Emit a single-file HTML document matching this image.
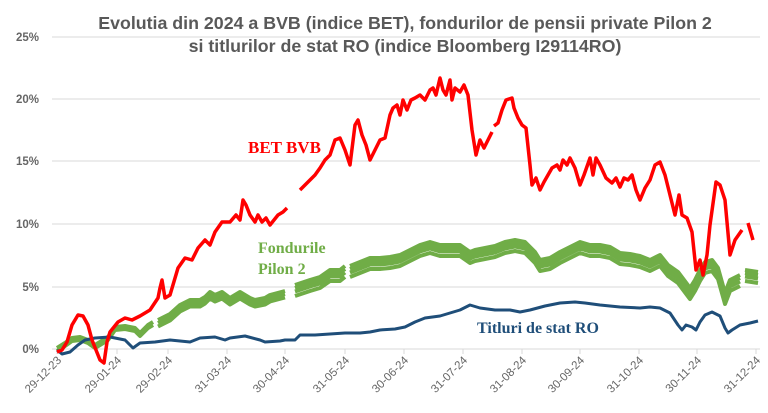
<!DOCTYPE html>
<html><head><meta charset="utf-8"><style>
body{margin:0;background:#fff;}
svg{display:block;font-family:"Liberation Sans",sans-serif;}
</style></head><body>
<svg width="768" height="413" viewBox="0 0 768 413" xmlns="http://www.w3.org/2000/svg">
<text x="405" y="29" text-anchor="middle" font-size="17.8" font-weight="bold" fill="#595959">Evolutia din 2024 a BVB (indice BET), fondurilor de pensii private Pilon 2</text>
<text x="405" y="52" text-anchor="middle" font-size="17.8" font-weight="bold" fill="#595959">si titlurilor de stat RO (indice Bloomberg I29114RO)</text>
<g stroke="#d9d9d9" stroke-width="1">
<line x1="52" x2="760" y1="37" y2="37"/><line x1="52" x2="760" y1="99" y2="99"/><line x1="52" x2="760" y1="161" y2="161"/><line x1="52" x2="760" y1="224" y2="224"/><line x1="52" x2="760" y1="287" y2="287"/><line x1="52" x2="760" y1="349" y2="349"/>
<line x1="57" x2="57" y1="349" y2="354"/><line x1="117" x2="117" y1="349" y2="354"/><line x1="168" x2="168" y1="349" y2="354"/><line x1="227" x2="227" y1="349" y2="354"/><line x1="285" x2="285" y1="349" y2="354"/><line x1="345" x2="345" y1="349" y2="354"/><line x1="404" x2="404" y1="349" y2="354"/><line x1="463" x2="463" y1="349" y2="354"/><line x1="522" x2="522" y1="349" y2="354"/><line x1="580" x2="580" y1="349" y2="354"/><line x1="639" x2="639" y1="349" y2="354"/><line x1="697" x2="697" y1="349" y2="354"/><line x1="756" x2="756" y1="349" y2="354"/>
</g>
<g font-size="11.5" font-weight="bold" fill="#666" text-anchor="end">
<text x="39" y="41">25%</text><text x="39" y="103">20%</text><text x="39" y="165">15%</text><text x="39" y="228">10%</text><text x="39" y="291">5%</text><text x="39" y="353">0%</text>
</g>
<g font-size="11.5" fill="#666" text-anchor="end">
<text transform="translate(62,361) rotate(-45)">29-12-23</text>
<text transform="translate(122,361) rotate(-45)">29-01-24</text>
<text transform="translate(173,361) rotate(-45)">29-02-24</text>
<text transform="translate(232,361) rotate(-45)">31-03-24</text>
<text transform="translate(290,361) rotate(-45)">30-04-24</text>
<text transform="translate(350,361) rotate(-45)">31-05-24</text>
<text transform="translate(409,361) rotate(-45)">30-06-24</text>
<text transform="translate(468,361) rotate(-45)">31-07-24</text>
<text transform="translate(527,361) rotate(-45)">31-08-24</text>
<text transform="translate(585,361) rotate(-45)">30-09-24</text>
<text transform="translate(644,361) rotate(-45)">31-10-24</text>
<text transform="translate(702,361) rotate(-45)">30-11-24</text>
<text transform="translate(761,361) rotate(-45)">31-12-24</text>
</g>
<g fill="none" stroke="#70ad47" stroke-width="4" stroke-linejoin="round">
<path d="M57,348 L65,343 72,338 80,337 88,340 95,345 100,342 108,337 115,327 125,326 135,328 140,333 148,325 153,322 M158,320 L170,314 180,305 190,300 200,300 205,297 210,292 215,295 222,292 230,298 240,292 250,298 255,300 265,298 270,295 285,291 M295,285 L310,280 320,277 330,270 340,270 345,266 M350,266 L360,262 370,258 380,258 390,257 400,255 410,250 420,245 430,242 440,245 450,245 460,245 470,252 475,250 485,248 495,246 505,242 515,240 525,242 535,252 540,260 550,258 560,252 570,247 580,242 590,245 600,245 610,247 620,253 630,254 640,256 650,260 660,255 668,265 678,272 690,288 695,280 700,270 705,262 712,260 718,268 725,293 730,280 740,275 M745,270 L758,272"/>
<path transform="translate(0,3)" d="M57,348 L65,343 72,338 80,337 88,340 95,345 100,342 108,337 115,327 125,326 135,328 140,333 148,325 153,322 M158,320 L170,314 180,305 190,300 200,300 205,297 210,292 215,295 222,292 230,298 240,292 250,298 255,300 265,298 270,295 285,291 M295,285 L310,280 320,277 330,270 340,270 345,266 M350,266 L360,262 370,258 380,258 390,257 400,255 410,250 420,245 430,242 440,245 450,245 460,245 470,252 475,250 485,248 495,246 505,242 515,240 525,242 535,252 540,260 550,258 560,252 570,247 580,242 590,245 600,245 610,247 620,253 630,254 640,256 650,260 660,255 668,265 678,272 690,288 695,280 700,270 705,262 712,260 718,268 725,293 730,280 740,275 M745,270 L758,272"/>
<path transform="translate(0,6.5)" d="M158,320 L170,314 180,305 190,300 200,300 205,297 210,292 215,295 222,292 230,298 240,292 250,298 255,300 265,298 270,295 285,291 M295,285 L310,280 320,277 330,270 340,270 345,266 M350,266 L360,262 370,258 380,258 390,257 400,255 410,250 420,245 430,242 440,245 450,245 460,245 470,252 475,250 485,248 495,246 505,242 515,240 525,242 535,252 540,260 550,258 560,252 570,247 580,242 590,245 600,245 610,247 620,253 630,254 640,256 650,260 660,255 668,265 678,272 690,288 695,280 700,270 705,262 712,260 718,268 725,293 730,280 740,275 M745,270 L758,272"/>
<path transform="translate(0,11)" d="M295,285 L310,280 320,277 330,270 340,270 345,266 M350,266 L360,262 370,258 380,258 390,257 400,255 410,250 420,245 430,242 440,245 450,245 460,245 470,252 475,250 485,248 495,246 505,242 515,240 525,242 535,252 540,260 550,258 560,252 570,247 580,242 590,245 600,245 610,247 620,253 630,254 640,256 650,260 660,255 668,265 678,272 690,288 695,280 700,270 705,262 712,260 718,268 725,293 730,280 740,275 M745,270 L758,272"/>
</g>
<path fill="none" stroke="#1f4e79" stroke-width="3" stroke-linejoin="round" d="M57,350 L62,354 70,352 78,345 85,340 95,338 110,337 125,340 133,348 140,343 155,342 170,340 190,342 200,338 215,337 225,340 230,338 245,336 260,340 265,342 280,341 285,340 295,340 300,335 315,335 330,334 345,333 360,333 370,332 380,330 395,329 405,327 415,322 425,318 440,316 460,310 470,305 480,308 495,310 510,310 520,312 530,310 545,306 560,303 575,302 585,303 600,305 620,307 640,308 650,307 660,308 670,313 678,325 682,330 686,325 692,327 696,330 700,322 705,315 712,312 720,316 725,328 728,333 732,330 740,325 750,323 758,321"/>
<path fill="none" stroke="#ff0000" stroke-width="3.5" stroke-linejoin="round" d="M57,352 L62,350 67,342 72,325 78,315 83,316 88,325 92,340 96,350 100,360 104,363 107,342 110,332 118,322 125,318 132,320 140,316 150,310 158,298 160,288 162,280 165,298 170,295 178,268 185,258 192,260 198,248 205,240 210,245 215,232 222,222 230,222 236,215 240,220 243,200 246,205 250,215 255,222 258,215 262,222 266,218 270,225 274,220 278,215 283,212 287,208 M300,190 L305,185 310,180 315,175 320,168 325,160 330,155 335,140 340,138 345,150 350,165 355,125 358,120 362,135 366,145 370,160 375,150 380,140 385,138 390,115 393,108 397,105 400,115 403,100 407,110 411,100 415,98 420,95 425,100 430,90 433,88 436,95 440,78 443,90 446,95 450,80 452,100 455,88 460,92 464,85 468,95 472,130 476,155 480,140 484,148 488,140 492,132 M494,126 L498,123 502,110 506,100 512,98 514,108 518,118 522,125 526,128 530,165 532,185 536,178 540,190 544,182 548,175 552,168 557,165 560,170 563,160 567,165 570,158 575,168 580,185 584,175 590,158 593,175 596,158 600,165 606,178 612,183 616,178 620,187 624,178 628,180 632,175 636,190 640,200 645,188 650,180 655,165 660,162 665,175 670,195 675,215 679,195 682,215 687,218 692,232 696,270 700,260 703,275 707,255 710,225 716,182 720,185 725,200 730,255 735,240 742,230 M748,223 L753,240"/>
<text x="248" y="153" font-family="Liberation Serif,serif" font-size="17" font-weight="bold" fill="#ff0000">BET BVB</text>
<text x="258" y="253" font-family="Liberation Serif,serif" font-size="16" font-weight="bold" fill="#70ad47">Fondurile</text>
<text x="258" y="274" font-family="Liberation Serif,serif" font-size="16" font-weight="bold" fill="#70ad47">Pilon 2</text>
<text x="477" y="333" font-family="Liberation Serif,serif" font-size="16" font-weight="bold" fill="#1f4e79">Titluri de stat RO</text>
</svg>
</body></html>
